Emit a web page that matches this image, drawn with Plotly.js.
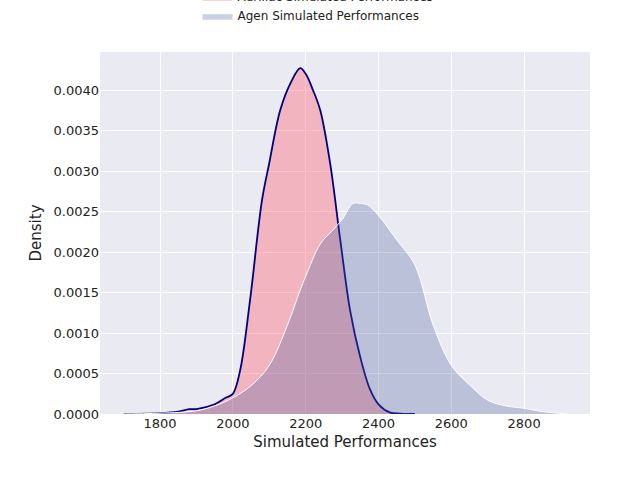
<!DOCTYPE html><html><head><script src="https://cdn.plot.ly/plotly-3.0.0.min.js"></script></head><body style="margin:0"><div id="c" style="width:640px;height:480px"></div><script>
const aurX=[1700,1800,1850,1880,1900,1950,1980,2000,2020,2047,2080,2100,2130,2160,2185,2200,2220,2240,2267,2295,2322,2350,2377,2400,2431,2460,2500];
const aurY=[0,0.00001,0.00003,0.00006,0.00006,0.00012,0.0002,0.00025,0.00054,0.0014,0.00264,0.0031,0.00375,0.0041,0.00427,0.0042,0.0040,0.00375,0.0031,0.00215,0.00128,0.0007,0.0003,0.00012,0.00002,0.000005,0];
const agX=[1690,1800,1900,1950,2000,2050,2100,2150,2185,2200,2240,2270,2300,2330,2350,2370,2400,2450,2500,2550,2600,2650,2700,2750,2800,2850,2920];
const agY=[0,0.00001,0.00004,0.0001,0.0002,0.00035,0.0006,0.0011,0.00153,0.0017,0.0021,0.00225,0.0024,0.0026,0.0026,0.00258,0.00245,0.00215,0.00184,0.0011,0.0006,0.00036,0.00017,0.0001,0.00007,0.00003,0];
Plotly.newPlot('c',[
{x:aurX,y:aurY,type:'scatter',mode:'lines',fill:'tozeroy',name:'Aurillac Simulated Performances',line:{color:'#000080',width:1.8,shape:'spline'},fillcolor:'rgba(255,100,115,0.4)'},
{x:agX,y:agY,type:'scatter',mode:'lines',fill:'tozeroy',name:'Agen Simulated Performances',line:{color:'#ffffff',width:1,shape:'spline'},fillcolor:'rgba(76,100,160,0.3)'}
],{
width:640,height:480,margin:{l:100,r:50,t:52,b:66,autoexpand:false},paper_bgcolor:'#fff',plot_bgcolor:'#eaeaf2',
font:{family:'DejaVu Sans',size:13,color:'#222'},showlegend:true,
legend:{orientation:'h',x:0.5,xanchor:'center',y:1.06,yanchor:'bottom',font:{size:12},entrywidth:250,entrywidthmode:'pixels'},
xaxis:{range:[1635,2981],tickvals:[1800,2000,2200,2400,2600,2800],gridcolor:'#fff',gridwidth:1.3,zeroline:false,title:{text:'Simulated Performances',font:{size:15},standoff:6},ticks:''},
yaxis:{range:[0,0.00447],tickvals:[0,0.0005,0.001,0.0015,0.002,0.0025,0.003,0.0035,0.004],tickformat:'.4f',gridcolor:'#fff',gridwidth:1.3,zeroline:false,title:{text:'Density',font:{size:15},standoff:8},ticks:''}
},{displayModeBar:false});
</script></body></html>
